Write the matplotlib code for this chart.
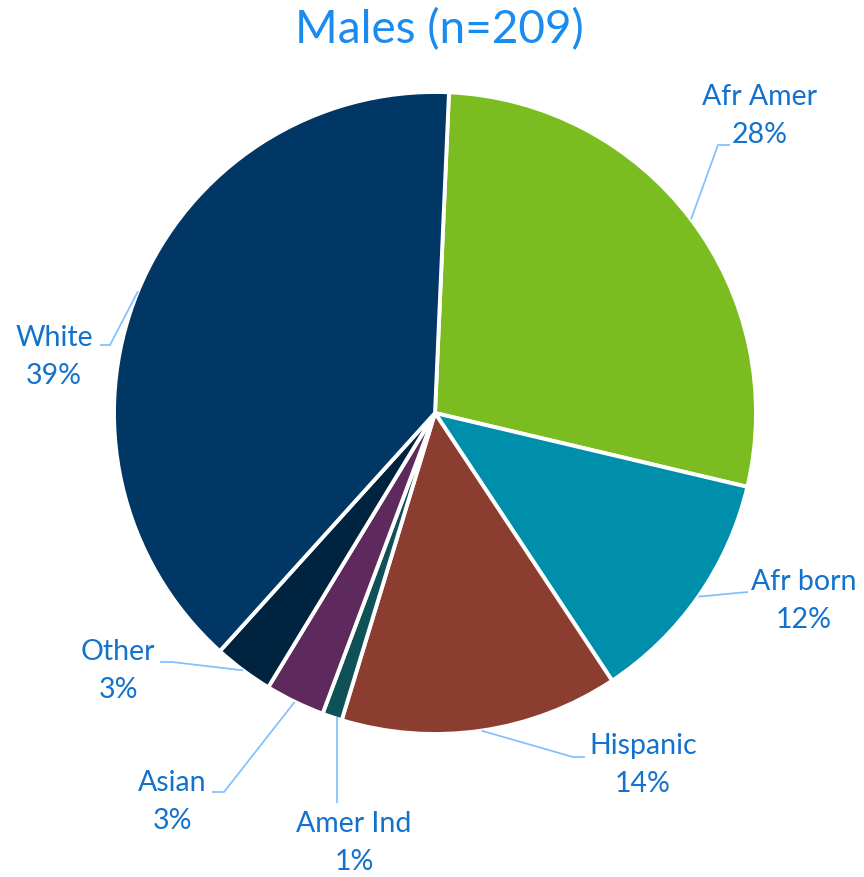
import matplotlib
matplotlib.use("Agg")
import matplotlib.pyplot as plt
import numpy as np

# ---- data ----
categories = ["Afr Amer", "Afr born", "Hispanic", "Amer Ind", "Asian", "Other", "White"]
values = [28, 12, 14, 1, 3, 3, 39]
pct_labels = ["28%", "12%", "14%", "1%", "3%", "3%", "39%"]
title = "Males (n=209)"

# ---- styles ----
colors = ["#7BBD21", "#008FAB", "#8B3E2F", "#0E5257", "#5E2A5E", "#00233F", "#003764"]
label_color = "#1372CC"
title_color = "#1A8CF0"
leader_color = "#80C0FF"
FONT = "Lato"

W, H = 864, 877
fig = plt.figure(figsize=(W / 100, H / 100), dpi=100)
ax = fig.add_axes([0, 0, 1, 1])

cx, cy, R = 435, H - 413, 321
start = 90 - 2.5
wedges, _ = ax.pie(values, colors=colors, startangle=start, counterclock=False,
                   center=(cx, cy), radius=R, frame=True,
                   wedgeprops=dict(edgecolor="white", linewidth=2.8))
ax.set_xlim(0, W)
ax.set_ylim(0, H)
ax.set_aspect("equal")
ax.axis("off")

# label layout (pixel coords from top-left): text center, leader elbow, leader end
label_pos = [(760, 116), (804, 601), (643, 765), (354, 843), (172, 802), (118, 671), (54, 357)]
elbows = [(718, 145), (737, 593), (573, 757), (337, 803), (224, 792), (172, 662), (110, 345)]
ends = [(730, 145), (748, 592), (585, 757), (337, 803), (212, 792), (160, 662), (100, 345)]

for w, name, pct, lp, el, en in zip(wedges, categories, pct_labels, label_pos, elbows, ends):
    mid = np.deg2rad((w.theta1 + w.theta2) / 2)
    sx, sy = cx + R * np.cos(mid), cy + R * np.sin(mid)
    if name == "Amer Ind":
        sx = el[0]
    ax.plot([sx, el[0], en[0]], [sy, H - el[1], H - en[1]], color=leader_color, lw=1.25,
            solid_capstyle="butt", zorder=1)
    ax.text(lp[0], H - lp[1], f"{name}\n{pct}", ha="center", va="center",
            multialignment="center", fontsize=20.5, color=label_color,
            family=FONT, linespacing=1.55)

ax.text(W / 2 + 7, H - 30, title, ha="center", va="center", fontsize=33,
        color=title_color, family=FONT)

fig.savefig("out.png", dpi=100)
